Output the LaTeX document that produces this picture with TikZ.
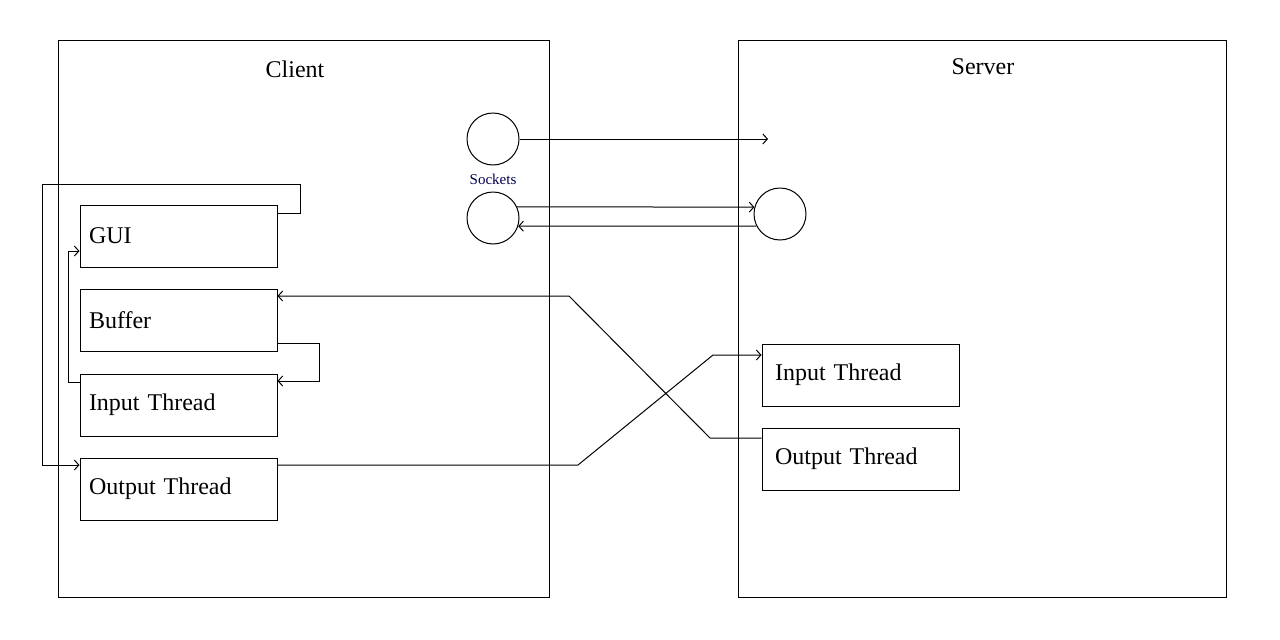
\documentclass[tikz,border=0pt]{standalone}
\usepackage{fontspec}
\setmainfont{Liberation Serif}
\usepackage{tikz}
\usetikzlibrary{arrows,arrows.meta,positioning}

\begin{document}
\begin{tikzpicture}[x=1pt, y=-1pt, >={Straight Barb[length=4.5pt,width=10pt]}]
			\tikzstyle{Side}	= [draw, line width=1pt, rectangle, minimum width=491pt, minimum height=557pt, inner sep=0pt]
			\tikzstyle{Box}		= [draw, line width=1pt, rectangle, minimum height=62pt, inner xsep=9pt, text width=179pt, align=left, font=\fontsize{24}{28}\selectfont]
			\tikzstyle{SBox}	= [Box, inner xsep=13pt, text width=171pt]
			\tikzstyle{Socket}	= [circle, draw, line width=1pt, minimum size=52pt, inner sep=0pt]
			\tikzstyle{Title}	= [font=\fontsize{24}{28}\selectfont]
			\tikzstyle{Link}	= [line width=1pt]

			\useasboundingbox (0,0) rectangle (1280,640);

			\node (client) at (303.5, 318.5) [Side] {};
			\node (server) at (982, 318.5) [Side, minimum width=488pt] {};
			\node (clientT) at (295, 69) [Title] {Client};
			\node (serverT) at (983, 67) [Title] {Server};

			\node (sockA) at (493, 139) [Socket] {};
			\node (sockB) at (493, 218) [Socket] {};
			\node (sockS) at (780, 214) [Socket] {};
			\node (sockT) at (493, 179) [text=blue!30!black, font=\fontsize{15}{17}\selectfont] {Sockets};
			\coordinate (sockEnd) at (768, 139);

			\node (gui) at (178.5, 236) [Box] {GUI};
			\node (buf) at (178.5, 320) [Box] {Buffer};
			\node (inC) at (178.5, 405) [Box] {Input Thread};
			\node (outC) at (178.5, 489) [Box] {Output Thread};
			\node (inS) at (860.5, 375) [SBox] {Input Thread};
			\node (outS) at (860.5, 459) [SBox] {Output Thread};

			% sockets
			\draw [->] (sockA.east) to (sockEnd) [Link];
			\draw [->] (sockB.25) to (sockS.165) [Link];
			\draw [->] (sockS.207) to (sockB.342) [Link];

			% client side
			\draw [->] ([yshift=23pt]gui.east) -- ++(23,0) |- (42,184) |- ([yshift=24pt]outC.west) [Link];
			\draw [->] ([yshift=23pt]inC.west) -- ++(-11,0) |- ([yshift=-15pt]gui.west) [Link];
			\draw [->] ([yshift=-23pt]buf.east) -- ++(42,0) |- ([yshift=24pt]inC.east) [Link];

			% across
			\draw [->] ([yshift=21pt]outS.west) -- (710, 438) -- (569, 296) -- ([yshift=24pt]buf.east) [Link];
			\draw [->] ([yshift=24pt]outC.east) -- (578, 465) -- (713, 355) -- ([yshift=20pt]inS.west) [Link];
		\end{tikzpicture}
\end{document}
